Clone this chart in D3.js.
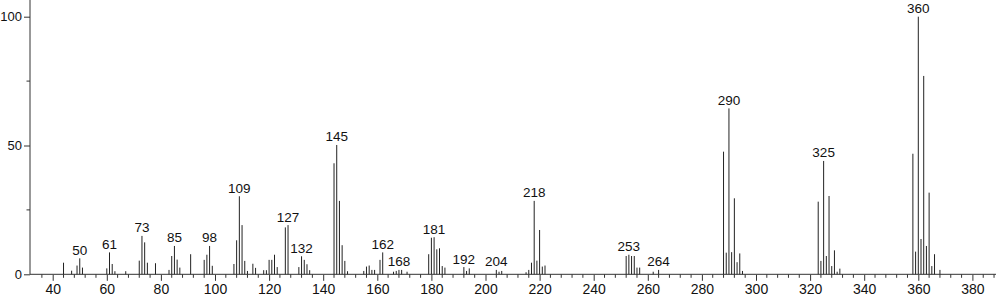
<!DOCTYPE html>
<html>
<head>
<meta charset="utf-8">
<script src="https://cdn.jsdelivr.net/npm/d3@7"></script>
<style>
	body { margin: 0; background: #fff; }
	svg { display: block; font-family: "Liberation Sans", Arial, sans-serif; }
</style>
</head>
<body>
<div class="chart"></div>
<script>
var width = 996, height = 299;

// m/z of each peak and its relative intensity
var mz = [44, 47, 49, 50, 51, 60, 61, 62, 63, 67, 72, 73, 74, 75, 78, 83, 84, 85, 86, 87, 91,
	96, 97, 98, 99, 107, 108, 109, 110, 111, 112, 114, 115, 118, 119, 120, 121, 122, 123, 126, 127,
	131, 132, 133, 134, 135, 144, 145, 146, 147, 148, 149, 155, 156, 157, 158, 159, 161, 162,
	166, 167, 168, 169, 171, 179, 180, 181, 182, 183, 184, 185, 192, 193, 194, 204, 205, 206,
	215, 216, 217, 218, 219, 220, 221, 222, 252, 253, 254, 255, 256, 257, 262, 264,
	288, 289, 290, 291, 292, 293, 294, 295, 323, 324, 325, 326, 327, 328, 329, 330, 331,
	358, 359, 360, 361, 362, 363, 364, 365, 366, 368];
var intensity = [4.5, 1.4, 3.4, 6.2, 2.6, 2.3, 8.5, 4, 1.2, 1.2, 5.3, 14.9, 12.4, 4.5, 4.3, 1.7, 7.1, 11, 5.7, 2.6, 7.8,
	5.6, 7.6, 11, 3.3, 4, 13.2, 30.3, 19.1, 5.2, 1.3, 4.1, 2.5, 1.6, 1.6, 5.6, 5.6, 7.6, 2.8, 18.2, 19.1,
	2.8, 7, 5.6, 3.9, 1.6, 43.1, 50.2, 28.5, 11.3, 5.2, 1.2, 1.3, 3, 3.4, 1.7, 1.7, 5.6, 8.5,
	1, 1.3, 1.7, 1.7, 1, 7.8, 14.2, 14.4, 9.7, 10.1, 3.2, 2.6, 2.8, 1.3, 2.3, 1.7, 1, 1.3,
	0.8, 1.7, 4.5, 28.5, 5.3, 17.2, 3, 3.4, 7.1, 7.6, 7.1, 7.1, 2.6, 2.6, 1, 1.7,
	47.6, 8.4, 64.4, 8.6, 29.5, 4.7, 8.1, 1.3, 28.2, 5.2, 44, 7.1, 30.4, 3.2, 9.3, 1, 2.2,
	46.8, 8.8, 100, 13.7, 77, 11, 31.7, 3.2, 7.8, 1.7];
var labelled = [50, 61, 73, 85, 98, 109, 127, 132, 145, 162, 168, 181, 192, 204, 218, 253, 264, 290, 325, 360];
var xTicks = d3.range(40, 381, 20);
var yTicks = [0, 50, 100];

var peaks = mz.map(function(m, i) { return {m: m, v: intensity[i]}; });

var x = d3.scaleLinear().domain([40, 380]).range([52.7, 972.4]);
var y = d3.scaleLinear().domain([0, 100]).range([274.3, 16.7]);
var axisLeft = 30;

var svg = d3.select(".chart").append("svg")
	.attr("width", width)
	.attr("height", height);

// x axis: line, majors every 20, minors every 4
var gx = svg.append("g")
	.attr("transform", "translate(0," + y(0) + ")");

gx.append("line")
	.attr("x1", axisLeft).attr("x2", width)
	.attr("stroke", "#333");

gx.append("g")
	.attr("transform", "translate(0,0.5)")
	.call(d3.axisBottom(x).tickValues(xTicks).tickSize(6).tickPadding(3).tickFormat(d3.format("d")))
	.call(function(g) {
		g.select(".domain").remove();
		g.selectAll("line").attr("stroke", "#333");
		g.selectAll("text").attr("font-size", 14).attr("fill", "#111")
			.attr("font-family", "Liberation Sans, Arial, sans-serif");
	});

var minors = d3.range(36, 389, 4).filter(function(d) { return d % 20 !== 0; });
gx.selectAll(".minor")
	.data(minors)
	.enter().append("line")
	.attr("class", "minor")
	.attr("x1", function(d) { return x(d); })
	.attr("x2", function(d) { return x(d); })
	.attr("y1", 0).attr("y2", 3.5)
	.attr("stroke", "#333");

// y axis
var gy = svg.append("g")
	.attr("transform", "translate(" + axisLeft + ",0)");

gy.append("line")
	.attr("y1", 0).attr("y2", y(0))
	.attr("stroke", "#333");

gy.append("g")
	.call(d3.axisLeft(y).tickValues(yTicks).tickSize(6).tickPadding(2))
	.call(function(g) {
		g.select(".domain").remove();
		g.selectAll("line").attr("stroke", "#333");
		g.selectAll("text").attr("font-size", 13).attr("fill", "#111")
			.attr("font-family", "Liberation Sans, Arial, sans-serif");
	});

gy.selectAll(".yminor")
	.data([25, 75])
	.enter().append("line")
	.attr("class", "yminor")
	.attr("x1", -3.5).attr("x2", 0)
	.attr("y1", function(d) { return y(d); })
	.attr("y2", function(d) { return y(d); })
	.attr("stroke", "#333");

// peaks
svg.append("g").selectAll("line")
	.data(peaks)
	.enter().append("line")
	.attr("x1", function(d) { return x(d.m); })
	.attr("x2", function(d) { return x(d.m); })
	.attr("y1", y(0))
	.attr("y2", function(d) { return y(d.v); })
	.attr("stroke", "#222")
	.attr("stroke-width", 1);

// peak labels
svg.append("g").selectAll("text")
	.data(peaks.filter(function(d) { return labelled.indexOf(d.m) >= 0; }))
	.enter().append("text")
	.attr("x", function(d) { return x(d.m); })
	.attr("y", function(d) { return y(d.v) - 3.5; })
	.attr("text-anchor", "middle")
	.attr("font-size", 13.5)
	.attr("fill", "#111")
	.text(function(d) { return d.m; });
</script>
</body>
</html>
